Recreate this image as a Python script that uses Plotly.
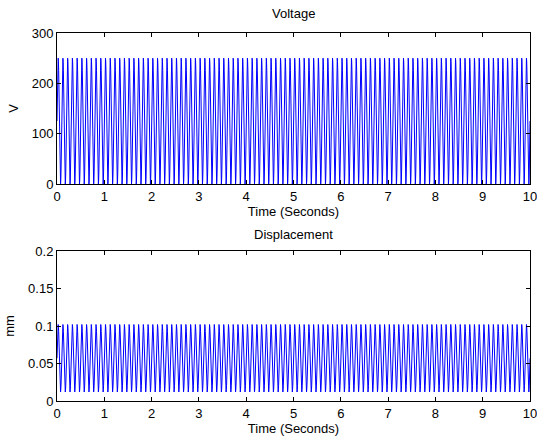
import numpy as np
import plotly.graph_objects as go
from plotly.subplots import make_subplots

# Recording settings
sample_rate_hz = 200
duration_s = 10

# One period of each sampled signal (20 samples per period, repeated over the record)
voltage_cycle = [125, 164, 198, 226, 244, 250, 244, 226, 198, 164,
                 125, 86, 52, 24, 6, 0, 6, 24, 52, 86]
displacement_cycle = [0.057, 0.071, 0.083, 0.093, 0.099, 0.102, 0.099, 0.093, 0.083, 0.071,
                      0.057, 0.043, 0.031, 0.021, 0.015, 0.012, 0.015, 0.021, 0.031, 0.043]

# Axis setup
x_ticks = [0, 1, 2, 3, 4, 5, 6, 7, 8, 9, 10]
v_ticks = [0, 100, 200, 300]
d_ticks = [0, 0.05, 0.1, 0.15, 0.2]
d_tick_text = ["0", "0.05", "0.1", "0.15", "0.2"]

n_samples = sample_rate_hz * duration_s + 1
t = np.arange(n_samples) / sample_rate_hz
reps = int(np.ceil(n_samples / len(voltage_cycle)))
voltage = np.tile(voltage_cycle, reps)[:n_samples]
displacement = np.tile(displacement_cycle, reps)[:n_samples]

W, H = 537, 440
ml, mr, mt, mb = 57, 7, 33, 39
ph = H - mt - mb
top_h, bot_h = 151, 150

fig = make_subplots(rows=2, cols=1)
fig.add_trace(go.Scatter(x=t, y=voltage, mode="lines",
                         line=dict(color="#0000ff", width=1)), row=1, col=1)
fig.add_trace(go.Scatter(x=t, y=displacement, mode="lines",
                         line=dict(color="#0000ff", width=1)), row=2, col=1)

font = dict(family="Liberation Sans, Arial, sans-serif", size=13, color="black")
axis_common = dict(showgrid=False, zeroline=False, showline=True, linecolor="black",
                   linewidth=1, mirror="ticks", ticks="inside", ticklen=4,
                   tickcolor="black", tickfont=font, ticklabeloverflow="allow",
                   automargin=False)

fig.update_xaxes(range=[0, 10], tickvals=x_ticks, domain=[0, 1], **axis_common)
fig.update_xaxes(title=dict(text="Time (Seconds)", font=font, standoff=4), row=1, col=1)
fig.update_xaxes(title=dict(text="Time (Seconds)", font=font, standoff=4), row=2, col=1)
fig.update_yaxes(range=[0, 300], tickvals=v_ticks, domain=[(ph - top_h) / ph, 1],
                 title=dict(text="V", font=font, standoff=10), row=1, col=1, **axis_common)
fig.update_yaxes(range=[0, 0.2], tickvals=d_ticks, ticktext=d_tick_text,
                 domain=[0, bot_h / ph],
                 title=dict(text="mm", font=font, standoff=10), row=2, col=1, **axis_common)

fig.add_annotation(text="Voltage", xref="paper", yref="paper", x=0.5, y=1,
                   yshift=10, yanchor="bottom", showarrow=False, font=font)
fig.add_annotation(text="Displacement", xref="paper", yref="paper", x=0.5,
                   y=bot_h / ph, yshift=7, yanchor="bottom", showarrow=False, font=font)

fig.update_layout(width=W, height=H, margin=dict(l=ml, r=mr, t=mt, b=mb),
                  paper_bgcolor="white", plot_bgcolor="white", showlegend=False,
                  font=font)

fig.write_html("out.html")
